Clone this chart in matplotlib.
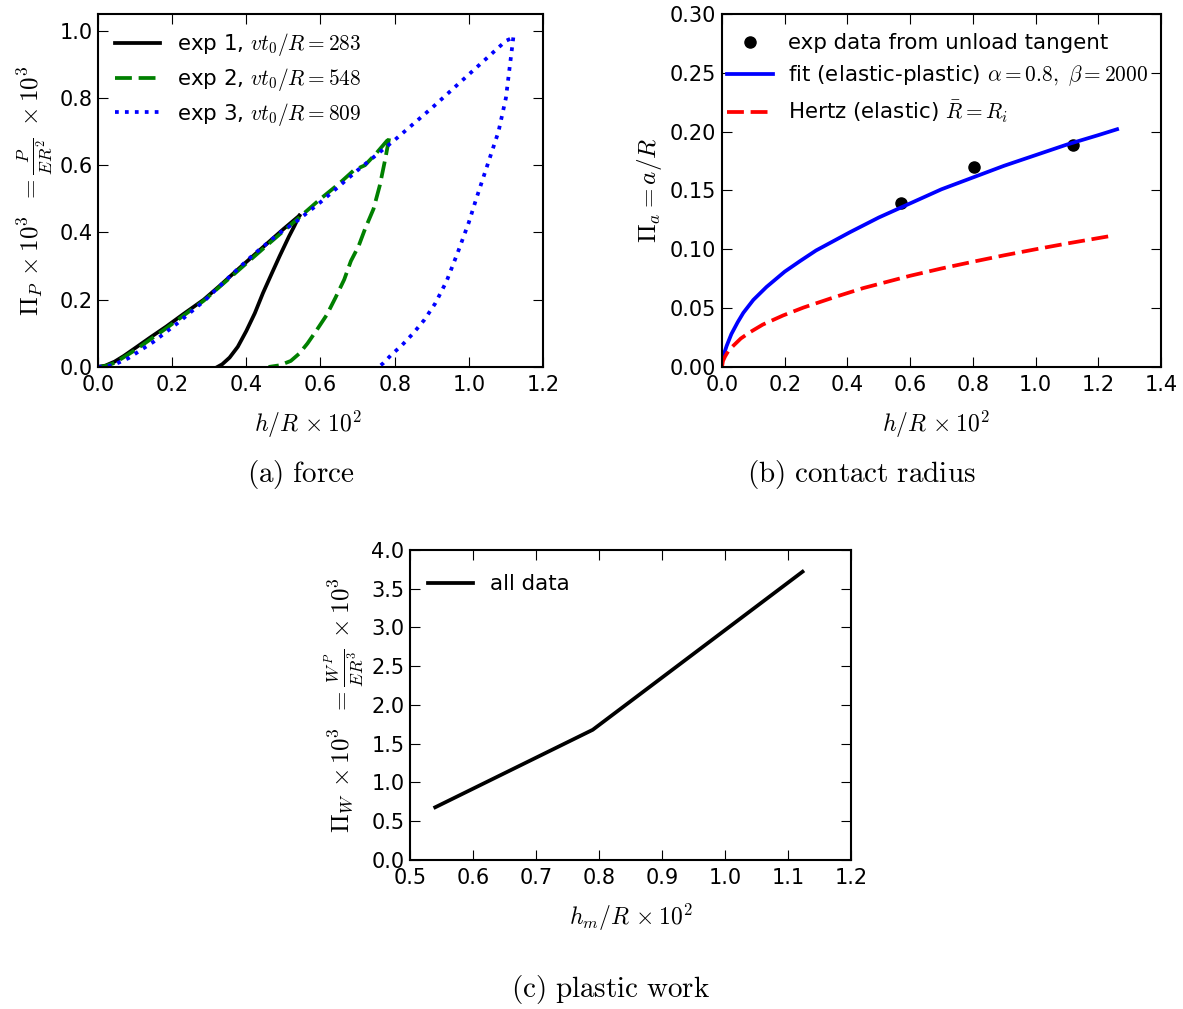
import matplotlib
matplotlib.use("Agg")
import matplotlib.pyplot as plt

plt.rcParams['mathtext.fontset'] = 'cm'
plt.rcParams['font.family'] = ['DejaVu Sans']
plt.rcParams['xtick.direction'] = 'in'
plt.rcParams['ytick.direction'] = 'in'
plt.rcParams['xtick.top'] = True
plt.rcParams['ytick.right'] = True
plt.rcParams['xtick.major.size'] = 7
plt.rcParams['ytick.major.size'] = 7
plt.rcParams['xtick.major.pad'] = 6
plt.rcParams['ytick.major.pad'] = 4
plt.rcParams['axes.linewidth'] = 1.5

# ---------------- (a) force ----------------
exp1_load_h = [0, 0.02, 0.045, 0.07, 0.1, 0.14, 0.184, 0.23, 0.285, 0.33, 0.368, 0.41, 0.46, 0.5, 0.543]
exp1_load_p = [0, 0.004, 0.016, 0.033, 0.056, 0.087, 0.12, 0.157, 0.2, 0.243, 0.281, 0.322, 0.371, 0.41, 0.45]
exp1_unload_h = [0.543, 0.53, 0.515, 0.49, 0.469, 0.445, 0.423, 0.40, 0.377, 0.355, 0.335, 0.322]
exp1_unload_p = [0.45, 0.42, 0.388, 0.33, 0.279, 0.22, 0.16, 0.107, 0.06, 0.028, 0.008, 0.0]

exp2_load_h = [0, 0.02, 0.045, 0.1, 0.184, 0.285, 0.368, 0.46, 0.543, 0.6, 0.65, 0.69, 0.72, 0.75, 0.785]
exp2_load_p = [0, 0.003, 0.012, 0.05, 0.115, 0.197, 0.277, 0.366, 0.445, 0.5, 0.545, 0.585, 0.6, 0.635, 0.68]
exp2_unload_h = [0.785, 0.775, 0.76, 0.743, 0.72, 0.703, 0.682, 0.664, 0.64, 0.617, 0.59, 0.565, 0.543,
                 0.52, 0.49, 0.46]
exp2_unload_p = [0.68, 0.62, 0.54, 0.47, 0.41, 0.36, 0.315, 0.26, 0.205, 0.155, 0.11, 0.07, 0.04,
                 0.018, 0.005, 0.0]

exp3_load_h = [0, 0.04, 0.082, 0.15, 0.22, 0.29, 0.359, 0.42, 0.488, 0.534, 0.6, 0.7, 0.8, 0.9, 1.0,
               1.05, 1.1, 1.12]
exp3_load_p = [0, 0.005, 0.026, 0.075, 0.135, 0.2, 0.273, 0.335, 0.397, 0.432, 0.49, 0.585, 0.675,
               0.77, 0.87, 0.92, 0.97, 0.98]
exp3_unload_h = [1.12, 1.10, 1.08, 1.05, 1.02, 1.0, 0.97, 0.94, 0.91, 0.88, 0.85, 0.82, 0.79, 0.77, 0.757]
exp3_unload_p = [0.98, 0.80, 0.70, 0.6, 0.5, 0.43, 0.34, 0.255, 0.19, 0.14, 0.1, 0.065, 0.035, 0.012, 0.0]

exp_labels = [r'exp 1, $vt_0/R=283$', r'exp 2, $vt_0/R=548$', r'exp 3, $vt_0/R=809$']

# ---------------- (b) contact radius ----------------
exp_h = [0.57, 0.805, 1.12]
exp_a = [0.139, 0.170, 0.189]
fit_h = [0, 0.005, 0.015, 0.03, 0.05, 0.068, 0.1, 0.142, 0.2, 0.249, 0.3, 0.408, 0.5, 0.6, 0.7, 0.8,
         0.9, 1.0, 1.1, 1.2, 1.26]
fit_a = [0.004, 0.01, 0.018, 0.028, 0.038, 0.046, 0.057, 0.068, 0.081, 0.09, 0.099, 0.1145, 0.127,
         0.139, 0.151, 0.161, 0.171, 0.18, 0.189, 0.197, 0.202]
hertz_h = [0, 0.003, 0.01, 0.02, 0.036, 0.06, 0.089, 0.13, 0.195, 0.26, 0.355, 0.45, 0.6, 0.7, 0.8,
           0.9, 1.0, 1.1, 1.2, 1.25]
hertz_a = [0, 0.005, 0.009, 0.0135, 0.018, 0.0242, 0.0295, 0.036, 0.0438, 0.0505, 0.059, 0.067,
           0.0775, 0.0837, 0.0894, 0.0949, 0.1, 0.1049, 0.1095, 0.1118]

# ---------------- (c) plastic work ----------------
work_h = [0.54, 0.79, 1.123]
work_w = [0.68, 1.68, 3.72]

fig = plt.figure(figsize=(11.83, 10.09), dpi=100)
fig.patch.set_facecolor('white')

tick_fs = 15
xlabel_fs = 17
ylabel_fs = 18
leg_fs = 15.4
cap_fs = 21
LW = 2.7
DASH = (4.5, 1.8)

# (a)
ax1 = fig.add_axes([0.0828, 0.6363, 0.3762, 0.3499])
ax1.plot(exp1_load_h, exp1_load_p, color='black', lw=LW, label=exp_labels[0])
ax1.plot(exp1_unload_h, exp1_unload_p, color='black', lw=LW)
ax1.plot(exp2_load_h, exp2_load_p, color='green', lw=LW, ls='--', dashes=DASH, label=exp_labels[1])
ax1.plot(exp2_unload_h, exp2_unload_p, color='green', lw=LW, ls='--', dashes=DASH)
ax1.plot(exp3_load_h, exp3_load_p, color='blue', lw=LW, ls=':', label=exp_labels[2])
ax1.plot(exp3_unload_h, exp3_unload_p, color='blue', lw=LW, ls=':')
ax1.set_xlim(0, 1.2)
ax1.set_ylim(0, 1.05)
ax1.set_xticks([0.0, 0.2, 0.4, 0.6, 0.8, 1.0, 1.2])
ax1.set_yticks([0.0, 0.2, 0.4, 0.6, 0.8, 1.0])
ax1.set_xlabel(r'$h/R\,\times10^2$', fontsize=xlabel_fs)
ax1.xaxis.set_label_coords(0.472, -0.12)
ax1.set_ylabel(r'$\Pi_P\,\times10^3\;\;=\frac{P}{ER^2}\;\times10^3$', fontsize=ylabel_fs)
ax1.legend(loc='upper left', bbox_to_anchor=(0.0196, 0.975), borderaxespad=0, frameon=False,
           fontsize=leg_fs, handlelength=2.1, handletextpad=0.8, labelspacing=0.36)
ax1.tick_params(labelsize=tick_fs)
fig.text(0.254, 0.530, r'$\mathrm{(a)\ force}$', ha='center', va='center', fontsize=cap_fs)

# (b)
ax2 = fig.add_axes([0.6103, 0.6363, 0.3711, 0.3499])
ax2.plot(exp_h, exp_a, 'o', color='black', ms=8, label='exp data from unload tangent')
ax2.plot(fit_h, fit_a, color='blue', lw=LW,
         label=r'fit (elastic-plastic) $\alpha=0.8,\ \beta=2000$')
ax2.plot(hertz_h, hertz_a, color='red', lw=LW, ls='--', dashes=DASH,
         label=r'Hertz (elastic) $\bar{R}=R_i$')
ax2.set_xlim(0, 1.4)
ax2.set_ylim(0, 0.30)
ax2.set_xticks([0.0, 0.2, 0.4, 0.6, 0.8, 1.0, 1.2, 1.4])
ax2.set_yticks([0.0, 0.05, 0.10, 0.15, 0.20, 0.25, 0.30])
ax2.set_yticklabels(['0.00', '0.05', '0.10', '0.15', '0.20', '0.25', '0.30'])
ax2.set_xlabel(r'$h/R\,\times10^2$', fontsize=xlabel_fs)
ax2.xaxis.set_label_coords(0.486, -0.12)
ax2.set_ylabel(r'$\Pi_a = a/R$', fontsize=ylabel_fs)
ax2.legend(loc='upper left', bbox_to_anchor=(-0.0075, 0.97), borderaxespad=0, frameon=False,
           fontsize=leg_fs, handlelength=2.15, numpoints=1, handletextpad=0.7, labelspacing=0.5)
ax2.tick_params(labelsize=tick_fs)
fig.text(0.728, 0.530, r'$\mathrm{(b)\ contact\ radius}$', ha='center', va='center', fontsize=cap_fs)

# (c)
ax3 = fig.add_axes([0.3466, 0.1477, 0.3728, 0.3072])
ax3.plot(work_h, work_w, color='black', lw=LW, label='all data')
ax3.set_xlim(0.5, 1.2)
ax3.set_ylim(0, 4.0)
ax3.set_xticks([0.5, 0.6, 0.7, 0.8, 0.9, 1.0, 1.1, 1.2])
ax3.set_yticks([0.0, 0.5, 1.0, 1.5, 2.0, 2.5, 3.0, 3.5, 4.0])
ax3.set_xlabel(r'$h_m/R\,\times10^2$', fontsize=xlabel_fs)
ax3.xaxis.set_label_coords(0.5, -0.135)
ax3.set_ylabel(r'$\Pi_W\,\times10^3\;\;=\frac{W^P}{ER^3}\;\times10^3$', fontsize=ylabel_fs)
ax3.legend(loc='upper left', bbox_to_anchor=(0.022, 0.95), borderaxespad=0, frameon=False,
           fontsize=leg_fs, handlelength=2.1, handletextpad=0.8)
ax3.tick_params(labelsize=tick_fs)
fig.text(0.516, 0.019, r'$\mathrm{(c)\ plastic\ work}$', ha='center', va='center', fontsize=cap_fs)

fig.savefig('out.png', dpi=100, facecolor='white')
